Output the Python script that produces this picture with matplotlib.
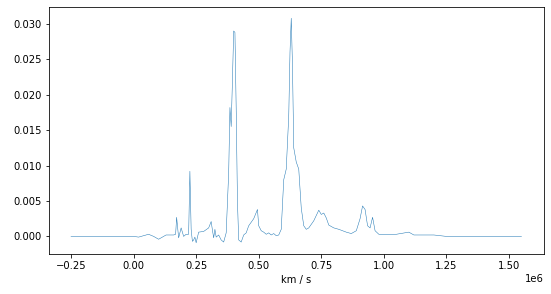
import matplotlib
matplotlib.use("Agg")
import matplotlib.pyplot as plt

velocity = [-0.25e6, 0.0, 0.02e6, 0.06e6, 0.08e6, 0.10e6, 0.13e6, 0.16e6, 0.168e6, 0.172e6, 0.18e6,
            0.19e6, 0.20e6, 0.21e6, 0.22e6, 0.225e6, 0.23e6, 0.235e6, 0.24e6, 0.245e6, 0.25e6, 0.26e6,
            0.28e6, 0.30e6, 0.31e6, 0.315e6, 0.32e6, 0.325e6, 0.33e6, 0.34e6, 0.35e6, 0.36e6, 0.37e6,
            0.38e6, 0.385e6, 0.39e6, 0.395e6, 0.40e6, 0.405e6, 0.41e6, 0.415e6, 0.42e6, 0.43e6, 0.44e6,
            0.45e6, 0.46e6, 0.48e6, 0.495e6, 0.50e6, 0.51e6, 0.52e6, 0.53e6, 0.54e6, 0.55e6, 0.56e6,
            0.57e6, 0.58e6, 0.59e6, 0.60e6, 0.61e6, 0.62e6, 0.625e6, 0.63e6, 0.635e6, 0.64e6, 0.65e6,
            0.66e6, 0.67e6, 0.68e6, 0.69e6, 0.70e6, 0.72e6, 0.74e6, 0.75e6, 0.76e6, 0.77e6, 0.78e6,
            0.80e6, 0.82e6, 0.85e6, 0.87e6, 0.89e6, 0.905e6, 0.915e6, 0.925e6, 0.935e6, 0.945e6,
            0.955e6, 0.965e6, 0.98e6, 1.05e6, 1.10e6, 1.12e6, 1.20e6, 1.25e6, 1.55e6]
flux = [0.0, 0.0, -0.0001, 0.0003, 0.0, -0.0004, 0.0002, 0.0002, 0.0003, 0.0027, -0.0002,
        0.0012, 0.0, 0.0003, 0.0003, 0.0092, 0.0010, -0.0007, -0.0005, -0.0001, -0.0009, 0.0006,
        0.0007, 0.0012, 0.0021, 0.0009, -0.0002, 0.0010, -0.0001, 0.0002, -0.0005, -0.0008, 0.0005,
        0.0090, 0.0182, 0.0155, 0.0220, 0.0290, 0.0288, 0.0180, 0.0050, -0.0005, -0.0008, 0.0002,
        0.0005, 0.0015, 0.0025, 0.0038, 0.0015, 0.0008, 0.0006, 0.0003, 0.0005, 0.0002, 0.0004,
        0.0001, 0.0002, 0.0010, 0.0080, 0.0095, 0.0170, 0.0260, 0.0308, 0.0240, 0.0125, 0.0105,
        0.0095, 0.0040, 0.0015, 0.0010, 0.0012, 0.0022, 0.0037, 0.0031, 0.0033, 0.0026, 0.0016,
        0.0012, 0.0010, 0.0006, 0.0004, 0.0008, 0.0025, 0.0043, 0.0038, 0.0015, 0.0012,
        0.0027, 0.0008, 0.0003, 0.0003, 0.0006, 0.0002, 0.0002, 0.0, 0.0]

fig = plt.figure(figsize=(551 / 72, 294 / 72), dpi=72)
ax = fig.add_axes([48.5 / 551, 1 - 254 / 294, (544 - 48.5) / 551, (254 - 7) / 294])
ax.plot(velocity, flux, color="tab:blue", linewidth=0.5)
ax.set_xlabel("km / s")
fig.savefig("out.png", dpi=72)
